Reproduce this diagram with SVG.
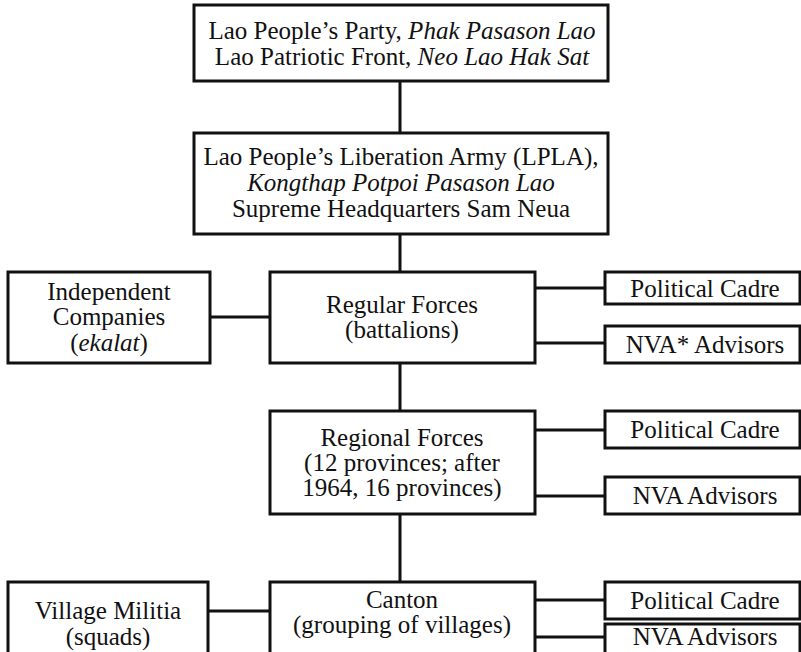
<svg xmlns="http://www.w3.org/2000/svg" width="801" height="652" viewBox="0 0 801 652">
<style>
rect{fill:#fff;stroke:#111;stroke-width:3}
line{stroke:#111;stroke-width:3}
text{font-family:'Liberation Serif','DejaVu Serif',serif;font-size:25px;fill:#111;text-anchor:middle}
.i{font-style:italic}
</style>
<rect x="0" y="0" width="801" height="652" style="stroke:none"/>
<g id="connectors">
<line x1="400" y1="81" x2="400" y2="133"/>
<line x1="400" y1="234" x2="400" y2="272"/>
<line x1="210" y1="317" x2="270" y2="317"/>
<line x1="535" y1="288" x2="605" y2="288"/>
<line x1="535" y1="343" x2="605" y2="343"/>
<line x1="400" y1="363" x2="400" y2="411"/>
<line x1="535" y1="430" x2="605" y2="430"/>
<line x1="535" y1="496" x2="605" y2="496"/>
<line x1="400" y1="514" x2="400" y2="582"/>
<line x1="208" y1="611" x2="270" y2="611"/>
<line x1="535" y1="600" x2="605" y2="600"/>
<line x1="535" y1="637" x2="605" y2="637"/>
</g>
<g id="party">
<rect x="194" y="5" width="414" height="76"/>
<text x="402" y="39">Lao People’s Party, <tspan class="i">Phak Pasason Lao</tspan></text>
<text x="402" y="65">Lao Patriotic Front, <tspan class="i">Neo Lao Hak Sat</tspan></text>
</g>
<g id="lpla">
<rect x="194" y="133" width="414" height="101"/>
<text x="401" y="165">Lao People’s Liberation Army (LPLA),</text>
<text class="i" x="401" y="191">Kongthap Potpoi Pasason Lao</text>
<text x="401" y="217">Supreme Headquarters Sam Neua</text>
</g>
<g id="independent">
<rect x="8" y="272" width="202" height="91"/>
<text x="109" y="300">Independent</text>
<text x="109" y="325">Companies</text>
<text x="109" y="351">(<tspan class="i">ekalat</tspan>)</text>
</g>
<g id="regular">
<rect x="270" y="272" width="265" height="91"/>
<text x="402" y="313">Regular Forces</text>
<text x="402" y="338">(battalions)</text>
</g>
<g id="cadre1">
<rect x="605" y="272" width="195" height="32"/>
<text x="705" y="297">Political Cadre</text>
</g>
<g id="nva1">
<rect x="605" y="326" width="195" height="37"/>
<text x="705" y="353">NVA* Advisors</text>
</g>
<g id="regional">
<rect x="270" y="411" width="265" height="103"/>
<text x="402" y="446">Regional Forces</text>
<text x="402" y="471">(12 provinces; after</text>
<text x="402" y="496">1964, 16 provinces)</text>
</g>
<g id="cadre2">
<rect x="605" y="411" width="195" height="37"/>
<text x="705" y="438">Political Cadre</text>
</g>
<g id="nva2">
<rect x="605" y="477" width="195" height="37"/>
<text x="705" y="504">NVA Advisors</text>
</g>
<g id="village">
<rect x="8" y="582" width="200" height="100"/>
<text x="108" y="619">Village Militia</text>
<text x="108" y="645">(squads)</text>
</g>
<g id="canton">
<rect x="270" y="582" width="265" height="100"/>
<text x="402" y="608">Canton</text>
<text x="402" y="633">(grouping of villages)</text>
</g>
<g id="cadre3">
<rect x="605" y="582" width="195" height="37"/>
<text x="705" y="609">Political Cadre</text>
</g>
<g id="nva3">
<rect x="605" y="624" width="195" height="40"/>
<text x="705" y="645">NVA Advisors</text>
</g>
</svg>
